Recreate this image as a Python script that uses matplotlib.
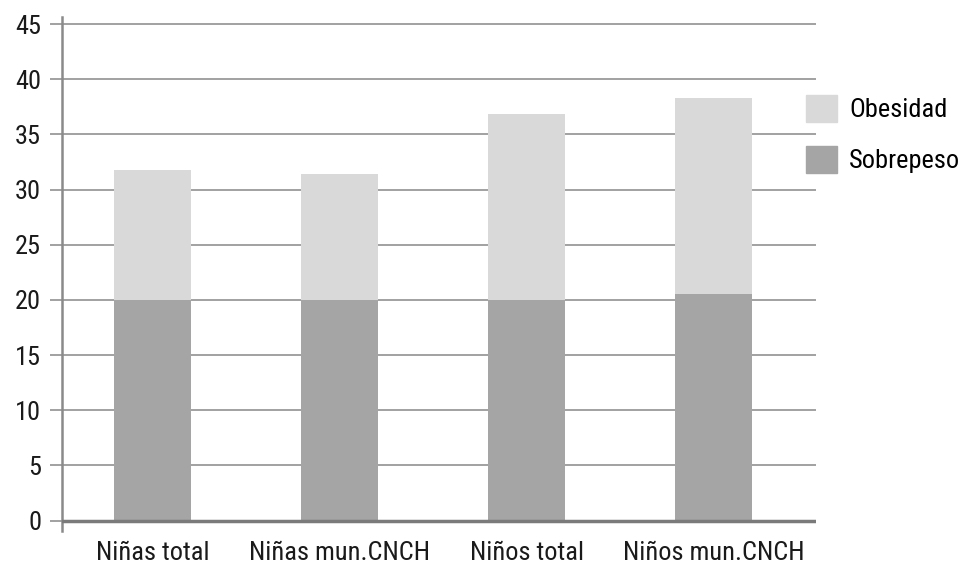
import matplotlib
matplotlib.use("Agg")
import matplotlib.pyplot as plt
from matplotlib.patches import Patch
from matplotlib import font_manager

categories = ["Niñas total", "Niñas mun.CNCH", "Niños total", "Niños mun.CNCH"]
sobrepeso = [20.0, 20.0, 20.0, 20.5]
obesidad = [11.75, 11.45, 16.9, 17.8]
yticks = [0, 5, 10, 15, 20, 25, 30, 35, 40, 45]

names = {f.name for f in font_manager.fontManager.ttflist}
fam = [n for n in ["Roboto Condensed", "Liberation Sans Narrow", "DejaVu Sans Condensed"] if n in names]
plt.rcParams['font.family'] = fam + ["DejaVu Sans"]

fig = plt.figure(figsize=(9.69, 5.71), dpi=100)
ax = fig.add_axes([62/969, 1-531/571, (816-62)/969, (531-17)/571])

dark = "#a5a5a5"
light = "#d9d9d9"
x = list(range(len(categories)))
ax.bar(x, sobrepeso, width=0.41, color=dark, zorder=3)
ax.bar(x, obesidad, bottom=sobrepeso, width=0.41, color=light, zorder=3)

ax.set_xlim(-0.484, 3.548)
ax.set_ylim(-0.95, 45.65)
ax.set_yticks(yticks)
ax.set_yticklabels([str(v) for v in yticks], fontsize=19, color="#1a1a1a")
for v in yticks[1:]:
    ax.axhline(v, color="#9a9a9a", lw=1.3, zorder=1)
ax.axhline(0, color="#7a7a7a", lw=2.5, zorder=4)

ax.set_xticks(x)
ax.set_xticklabels(categories, fontsize=19, color="#1a1a1a")
ax.tick_params(axis='x', length=0, pad=7)
ax.tick_params(axis='y', length=9, width=1.3, color="#9a9a9a", pad=6)

for s in ["top", "right", "bottom"]:
    ax.spines[s].set_visible(False)
ax.spines["left"].set_color("#8a8a8a")
ax.spines["left"].set_linewidth(1.8)

handles = [Patch(color=light, label="Obesidad"), Patch(color=dark, label="Sobrepeso")]
fig.legend(handles=handles, loc="upper left", bbox_to_anchor=(795/969, 1-84/571),
           frameon=False, fontsize=19, handlelength=1.2, handleheight=1.2,
           handletextpad=0.45, labelspacing=0.9, borderaxespad=0)

fig.savefig("out.png", dpi=100)
